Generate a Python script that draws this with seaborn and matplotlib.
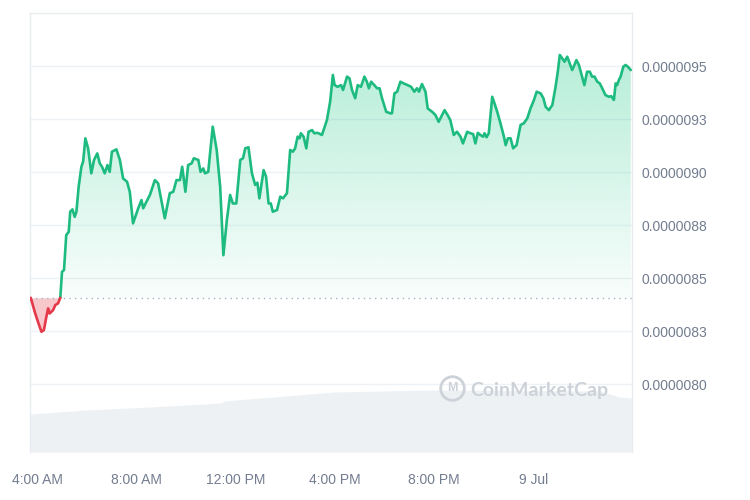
import numpy as np
import pandas as pd
import matplotlib
matplotlib.use('Agg')
import matplotlib.pyplot as plt
from matplotlib.patches import PathPatch
from matplotlib.colors import to_rgb
import seaborn as sns

# time in hours since 8 Jul 00:00, price in units of 1e-6
hours = [3.75, 3.93, 4.04, 4.18, 4.28, 4.38, 4.45, 4.51, 4.65, 4.74, 4.85, 4.94, 5.01, 5.09, 5.18,
         5.28, 5.34, 5.43, 5.52, 5.59, 5.68, 5.79, 5.86, 5.95, 6.06, 6.19, 6.30, 6.43, 6.53, 6.62,
         6.73, 6.84, 6.93, 7.02, 7.20, 7.34, 7.47, 7.63, 7.74, 7.87, 8.08, 8.21, 8.28, 8.41, 8.55,
         8.75, 8.88, 9.15, 9.35, 9.49, 9.62, 9.76, 9.85, 9.98, 10.09, 10.23, 10.32, 10.50, 10.59,
         10.70, 10.77, 10.90, 11.08, 11.24, 11.38, 11.51, 11.65, 11.78, 11.89, 12.03, 12.19, 12.30,
         12.39, 12.52, 12.66, 12.79, 12.88, 12.96, 13.13, 13.23, 13.33, 13.42, 13.50, 13.67, 13.80,
         13.91, 14.07, 14.20, 14.31, 14.40, 14.50, 14.58, 14.63, 14.74, 14.85, 14.94, 15.08, 15.17,
         15.30, 15.48, 15.68, 15.81, 15.92, 15.99, 16.11, 16.25, 16.33, 16.49, 16.59, 16.69, 16.82,
         16.92, 17.05, 17.19, 17.29, 17.37, 17.46, 17.59, 17.70, 17.80, 17.90, 18.07, 18.24, 18.30,
         18.40, 18.51, 18.64, 18.77, 18.93, 19.07, 19.20, 19.31, 19.39, 19.51, 19.65, 19.74, 19.92,
         20.05, 20.18, 20.32, 20.42, 20.54, 20.65, 20.79, 20.92, 21.06, 21.16, 21.33, 21.46, 21.57,
         21.66, 21.76, 21.86, 21.97, 22.03, 22.11, 22.20, 22.34, 22.43, 22.54, 22.67, 22.81, 22.88,
         22.97, 23.08, 23.18, 23.32, 23.48, 23.61, 23.75, 23.88, 24.02, 24.13, 24.29, 24.40, 24.49,
         24.62, 24.76, 24.89, 24.98, 25.06, 25.16, 25.25, 25.36, 25.46, 25.56, 25.65, 25.73, 25.83,
         25.96, 26.05, 26.16, 26.27, 26.36, 26.46, 26.57, 26.67, 26.77, 26.90, 27.04, 27.13, 27.24,
         27.31, 27.37, 27.44, 27.51, 27.62, 27.71, 27.80, 27.92]
price = [8.407, 8.333, 8.294, 8.247, 8.255, 8.318, 8.357, 8.333, 8.349, 8.373, 8.381, 8.407, 8.530,
         8.538, 8.703, 8.718, 8.813, 8.824, 8.789, 8.813, 8.931, 9.025, 9.049, 9.159, 9.112, 8.994,
         9.057, 9.088, 9.041, 9.025, 8.994, 9.033, 9.001, 9.096, 9.107, 9.057, 8.970, 8.954, 8.907,
         8.758, 8.829, 8.868, 8.829, 8.860, 8.892, 8.962, 8.947, 8.782, 8.900, 8.907, 8.962, 8.962,
         9.025, 8.907, 9.033, 9.041, 9.065, 9.057, 9.001, 9.017, 8.994, 9.001, 9.214, 9.104, 8.931,
         8.608, 8.774, 8.892, 8.852, 8.852, 9.057, 9.065, 9.112, 9.117, 8.994, 8.939, 8.950, 8.876,
         9.009, 8.978, 8.852, 8.852, 8.813, 8.821, 8.884, 8.876, 8.900, 9.104, 9.096, 9.112, 9.167,
         9.159, 9.183, 9.167, 9.112, 9.190, 9.198, 9.183, 9.185, 9.175, 9.245, 9.332, 9.458, 9.410,
         9.402, 9.410, 9.387, 9.450, 9.442, 9.387, 9.348, 9.410, 9.402, 9.450, 9.426, 9.395, 9.426,
         9.410, 9.395, 9.395, 9.348, 9.284, 9.277, 9.277, 9.371, 9.379, 9.426, 9.418, 9.410, 9.402,
         9.379, 9.395, 9.379, 9.415, 9.379, 9.300, 9.284, 9.269, 9.237, 9.269, 9.292, 9.269, 9.245,
         9.175, 9.190, 9.167, 9.135, 9.190, 9.183, 9.179, 9.135, 9.185, 9.175, 9.167, 9.183, 9.164,
         9.183, 9.355, 9.324, 9.284, 9.230, 9.167, 9.127, 9.159, 9.159, 9.112, 9.127, 9.222, 9.230,
         9.253, 9.300, 9.340, 9.379, 9.371, 9.348, 9.308, 9.292, 9.316, 9.402, 9.473, 9.552, 9.536,
         9.520, 9.544, 9.513, 9.481, 9.505, 9.528, 9.505, 9.450, 9.410, 9.473, 9.473, 9.450, 9.450,
         9.426, 9.418, 9.395, 9.363, 9.355, 9.358, 9.340, 9.418, 9.410, 9.434, 9.450, 9.497, 9.505,
         9.497, 9.481]

# 24h volume (arbitrary units) shown as grey band at the bottom
vol_hours = [3.72, 5.98, 8.56, 11.38, 11.58, 11.98, 15.98, 19.85, 26.7, 27.45, 27.97]
volume = [3.8, 4.2, 4.5, 4.9, 5.1, 5.2, 6.0, 6.2, 6.1, 5.5, 5.4]

x_ticks = [4, 8, 12, 16, 20, 24]
x_labels = ['4:00 AM', '8:00 AM', '12:00 PM', '4:00 PM', '8:00 PM', '9 Jul']
y_ticks = [8.0, 8.25, 8.5, 8.75, 9.0, 9.25, 9.5]
y_labels = ['0.0000080', '0.0000083', '0.0000085', '0.0000088', '0.0000090', '0.0000093', '0.0000095']

GREEN = '#1dbb80'
RED = '#e5394a'
GRID = '#eff2f5'

sns.set_style('white')
plt.rcParams['font.family'] = ['Liberation Sans', 'DejaVu Sans']

df = pd.DataFrame({'hour': hours, 'price': price})
base = df['price'].iloc[0]
cross = df.loc[11, 'hour']
red = df[df['hour'] <= cross]
green = df[df['hour'] >= cross]

fig = plt.figure(figsize=(7.5, 5), dpi=100)
ax = fig.add_axes([0.04, 0.096, 0.8027, 0.878])
axv = ax.twinx()
axv.set_zorder(ax.get_zorder() - 1)
ax.patch.set_visible(False)

# volume band
axv.fill_between(vol_hours, volume, 0, color='#eef1f4', lw=0)
axv.set_ylim(0, 43.9)
axv.set_yticks([])
for s in axv.spines.values():
    s.set_visible(False)

ymin, ymax = 7.68, 9.75
xmin, xmax = 3.72, 27.97

for t in y_ticks:
    ax.axhline(t, color=GRID, lw=1, zorder=0)

# green gradient fill
poly = ax.fill_between(green['hour'], green['price'], base, color='none', lw=0)
patch = PathPatch(poly.get_paths()[0], transform=ax.transData, facecolor='none', edgecolor='none')
ax.add_patch(patch)
img = np.zeros((256, 1, 4))
img[:, :, :3] = to_rgb('#16c784')
img[:, 0, 3] = np.linspace(0.36, 0.03, 256)
im = ax.imshow(img, extent=[xmin, xmax, base, ymax], aspect='auto', origin='upper', zorder=1)
im.set_clip_path(patch)

# red fill under baseline
ax.fill_between(red['hour'], red['price'], base, color=RED, alpha=0.28, lw=0, zorder=1)

ax.axhline(base, color='#a6b0c3', lw=1, ls=(0, (1, 3)), zorder=2)

sns.lineplot(data=green, x='hour', y='price', ax=ax, color=GREEN, lw=1.9, zorder=3)
sns.lineplot(data=red, x='hour', y='price', ax=ax, color=RED, lw=1.9, zorder=3)

ax.set_xlim(xmin, xmax)
ax.set_ylim(ymin, ymax)
ax.set_xticks(x_ticks)
ax.set_xticklabels(x_labels)
ax.yaxis.tick_right()
ax.set_yticks(y_ticks)
ax.set_yticklabels(y_labels)
ax.tick_params(axis='both', length=0, labelsize=10, colors='#737d90')
ax.tick_params(axis='x', pad=15)
ax.tick_params(axis='y', pad=7)
ax.set_xlabel('')
ax.set_ylabel('')
for side in ['top', 'left', 'right']:
    ax.spines[side].set_color('#e8ebef')
    ax.spines[side].set_linewidth(1)
ax.spines['bottom'].set_visible(False)

# watermark
ax.plot([0.701], [0.146], transform=ax.transAxes, marker='o', ms=17, mfc='none',
        mec='#cdd2d9', mew=2, zorder=4)
ax.text(0.701, 0.146, 'M', transform=ax.transAxes, ha='center', va='center',
        fontsize=9, color='#cdd2d9', fontweight='bold', zorder=4)
ax.text(0.731, 0.141, 'CoinMarketCap', transform=ax.transAxes, ha='left', va='center',
        fontsize=14, color='#cdd2d9', fontweight='bold', family=['Lato', 'DejaVu Sans'], zorder=4)

fig.savefig('out.png', dpi=100)
